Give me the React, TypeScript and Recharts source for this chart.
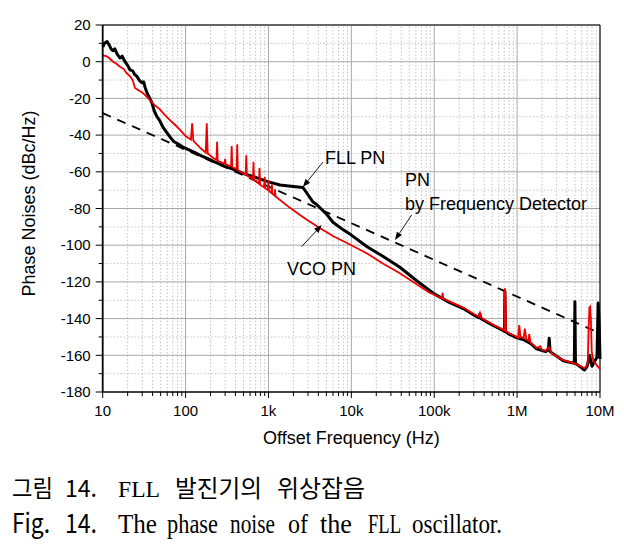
import React from 'react';
import { LineChart, Line, XAxis, YAxis, ReferenceLine, ReferenceDot, Label } from 'recharts';

// x ticks (log axis)
const xMajorTicks = [10, 100, 1e3, 1e4, 1e5, 1e6, 1e7];
const xTickLabels = ['10', '100', '1k', '10k', '100k', '1M', '10M'];
const xMinorSteps = [2, 3, 4, 5, 6, 7, 8, 9];
const xMinorTicks = xMajorTicks.slice(0, -1).flatMap((d) => xMinorSteps.map((m) => d * m));

// y ticks
const yMajorTicks = [20, 0, -20, -40, -60, -80, -100, -120, -140, -160, -180];
const yMinorTicks = [10, -10, -30, -50, -70, -90, -110, -130, -150, -170];

// FLL PN (black), [frequency Hz, dBc/Hz]
const fllPoints: [number, number][] = [
  [10, 8], [10.5, 10], [11.3, 11], [12, 9], [12.6, 7], [13.3, 6], [14, 7], [15, 4], [16.2, 2],
  [17.2, 3], [18.6, 0], [20, -2], [21.4, -4.5], [23, -5], [24.3, -7], [25.9, -8], [27.5, -10],
  [29.8, -11.5], [31.2, -11], [32.5, -14], [34.3, -17], [37, -20], [39.3, -22.5], [42, -27],
  [45.2, -30], [48.5, -32], [53.3, -35.6], [58, -38], [64.8, -41], [72, -43.5], [78.9, -44.5],
  [93, -46.5], [110, -48], [130, -49.5], [150, -51], [180, -52.5], [220, -54.5], [300, -57],
  [400, -59], [500, -61], [700, -63], [1000, -65.5], [1380, -67.2], [2000, -68], [2600, -68.5],
  [3000, -72.5], [3450, -76.5], [3850, -78], [5000, -83], [6000, -87.5], [7900, -91.5],
  [10000, -94.5], [15500, -100.8], [24000, -106], [38500, -112], [62000, -119.5],
  [100000, -126.5], [150000, -131], [224000, -134.5], [300000, -138], [345000, -139.5],
  [356000, -137.5], [367000, -140], [500000, -143.5], [676000, -146.5], [705000, -147],
  [712000, -125], [725000, -147], [800000, -148.5], [1000000, -150.5], [1200000, -151.5],
  [1500000, -154], [1720000, -156.5], [2200000, -158], [2380000, -157], [2440000, -150.7],
  [2500000, -158], [3600000, -163], [4900000, -164.4], [4980000, -130.8], [5060000, -164.5],
  [5900000, -166.5], [6500000, -168], [7000000, -166], [7500000, -160], [8000000, -166],
  [9200000, -161], [9500000, -131.5], [9750000, -142], [10000000, -162],
];

// VCO PN (red)
const vcoPoints: [number, number][] = [
  [10, 3.5], [11, 3], [12, 2], [13.3, 0], [14.5, -1], [16.2, -2.7], [18, -4], [19.2, -6],
  [21.4, -8], [23, -10], [24.5, -14.3], [27, -15.5], [30.6, -17], [37.2, -21], [42, -23.5],
  [49, -26], [56, -29], [64.8, -31.8], [75, -34.5], [85.3, -37], [100, -40.5], [116, -42.5],
  [120, -33.6], [124, -43], [150, -47], [175, -49.5], [180, -33.6], [185, -50], [215, -52.5],
  [236, -53.5], [240, -43.6], [244, -54], [295, -55.5], [300, -53], [305, -56], [354, -57],
  [360, -46], [366, -57.5], [413, -58.5], [420, -45], [427, -59], [480, -60.5], [531, -61.5],
  [540, -51], [549, -62], [650, -64], [660, -54.5], [670, -64.5], [768, -66.5], [780, -58],
  [792, -67], [887, -68.5], [900, -62.7], [913, -69], [985, -70], [1000, -64.5], [1015, -70.5],
  [1085, -71.5], [1100, -67], [1115, -72], [1185, -73], [1200, -69.5], [1215, -73.5],
  [1380, -75.4], [1800, -79.5], [2400, -83.5], [3000, -86.5], [4200, -90.7], [6000, -95],
  [10000, -100], [15500, -104.5], [24000, -110], [38500, -115.3], [60000, -121], [88700, -126],
  [100000, -127], [124000, -129], [126000, -125.9], [129000, -129.3], [150000, -130.5],
  [224000, -134], [300000, -137.5], [345000, -139], [356000, -137], [367000, -139.5],
  [500000, -143], [676000, -146], [705000, -146.5], [712000, -123.5], [725000, -128],
  [735000, -147], [800000, -148], [950000, -149.5], [1030000, -150.5], [1060000, -143.5],
  [1100000, -150], [1200000, -150.5], [1240000, -145.5], [1290000, -151.5], [1370000, -152],
  [1400000, -148.5], [1450000, -153], [1720000, -156], [1900000, -155], [2000000, -157],
  [2200000, -157.5], [2440000, -155.5], [2600000, -159], [3600000, -162.6], [5000000, -164.5],
  [5900000, -166], [6500000, -167], [7100000, -165], [7300000, -145], [7450000, -134],
  [7600000, -133.5], [7750000, -140], [7950000, -158], [8300000, -163], [9000000, -165],
  [10000000, -167.5],
];

// PN by frequency detector (dashed)
const fdPoints: [number, number][] = [[10, -28], [10000000, -148]];

const toData = (pts: [number, number][]) => pts.map(([f, v]) => ({ f, v }));

const FONT = '"Liberation Sans", Arial, sans-serif';

const XTick = (props: any) => {
  const { x, y, payload } = props;
  const i = xMajorTicks.indexOf(payload.value);
  const major = i >= 0;
  return (
    <g>
      <line x1={x} x2={x} y1={y} y2={y + (major ? 6 : 4)} stroke="#000" strokeWidth={1} />
      {major && (
        <text x={x} y={y + 24} textAnchor="middle" fontSize={15} fontFamily={FONT} fill="#000">
          {xTickLabels[i]}
        </text>
      )}
    </g>
  );
};

const YTick = (props: any) => {
  const { x, y, payload } = props;
  const major = yMajorTicks.indexOf(payload.value) >= 0;
  return (
    <g>
      <line x1={x} x2={x - (major ? 7 : 4)} y1={y} y2={y} stroke="#000" strokeWidth={1} />
      {major && (
        <text x={x - 12} y={y} dy="0.35em" textAnchor="end" fontSize={15} fontFamily={FONT} fill="#000">
          {payload.value}
        </text>
      )}
    </g>
  );
};

const arrowShape = (p: any) => {
  const { x1, y1, x2, y2 } = p;
  const a = Math.atan2(y2 - y1, x2 - x1);
  const len = 8;
  const w = 3;
  const bx = x2 - len * Math.cos(a);
  const by = y2 - len * Math.sin(a);
  const pts = `${x2},${y2} ${bx + w * Math.sin(a)},${by - w * Math.cos(a)} ${bx - w * Math.sin(a)},${by + w * Math.cos(a)}`;
  return (
    <g>
      <line x1={x1} y1={y1} x2={bx} y2={by} stroke="#000" strokeWidth={0.9} />
      <polygon points={pts} fill="#000" />
    </g>
  );
};

const textShape = (label: string) => (p: any) => (
  <text x={p.cx} y={p.cy} dy="0.35em" fontSize={18} fontFamily={FONT} fill="#000">
    {label}
  </text>
);

// annotation anchors in data coordinates
const annoLabels: { f: number; v: number; text: string }[] = [
  { f: 4800, v: -52.5, text: 'FLL PN' },
  { f: 44400, v: -64.5, text: 'PN' },
  { f: 44400, v: -77.3, text: 'by Frequency Detector' },
  { f: 1670, v: -112.7, text: 'VCO PN' },
];
const annoArrows: [number, number, number, number][] = [
  [4540, -54.7, 2600, -68.3],
  [53400, -83.5, 33600, -97.2],
  [2510, -100.8, 4390, -89],
];

const captionKo: [string, number, number, string][] = [
  ['그림', 12, 41, '"Noto Sans CJK KR"'],
  ['14.', 65, 32, '"Noto Sans CJK KR"'],
  ['FLL', 118, 42, '"Liberation Serif"'],
  ['발진기의', 175, 87, '"Noto Sans CJK KR"'],
  ['위상잡음', 277, 88, '"Noto Sans CJK KR"'],
];
const captionEn: [string, number, number, string][] = [
  ['Fig.', 12, 38, '"Noto Sans CJK KR"'],
  ['14.', 65, 32, '"Noto Sans CJK KR"'],
  ['The', 118, 39, '"Liberation Serif"'],
  ['phase', 167, 51, '"Liberation Serif"'],
  ['noise', 230, 45, '"Liberation Serif"'],
  ['of', 288, 20, '"Liberation Serif"'],
  ['the', 320, 32, '"Liberation Serif"'],
  ['FLL', 368, 33, '"Liberation Serif"'],
  ['oscillator.', 412, 90, '"Liberation Serif"'],
];

export default function App() {
  return (
    <div style={{ position: 'absolute', left: 0, top: 0, width: 624, height: 551, background: '#fff' }}>
      <LineChart width={624} height={460} margin={{ top: 25, right: 24, left: 0, bottom: 0 }}>
        <XAxis
          dataKey="f"
          type="number"
          scale="log"
          domain={[10, 1e7]}
          ticks={[...xMajorTicks, ...xMinorTicks]}
          interval={0}
          tick={<XTick />}
          tickLine={false}
          tickSize={0}
          tickMargin={0}
          height={68}
          axisLine={{ stroke: '#000', strokeWidth: 1.5 }}
        >
          <Label
            content={(p: any) => (
              <text
                x={p.viewBox.x + p.viewBox.width / 2}
                y={p.viewBox.y + 52}
                textAnchor="middle"
                fontSize={18}
                fontFamily={FONT}
                fill="#000"
              >
                Offset Frequency (Hz)
              </text>
            )}
          />
        </XAxis>
        <YAxis
          type="number"
          domain={[-180, 20]}
          ticks={[...yMajorTicks, ...yMinorTicks]}
          interval={0}
          tick={<YTick />}
          tickLine={false}
          tickSize={0}
          tickMargin={0}
          width={102.7}
          axisLine={{ stroke: '#000', strokeWidth: 1.8 }}
        >
          <Label
            content={(p: any) => {
              const cx = p.viewBox.x + 29;
              const cy = p.viewBox.y + p.viewBox.height / 2 - 5;
              return (
                <text
                  x={cx}
                  y={cy}
                  dy="0.35em"
                  textAnchor="middle"
                  transform={`rotate(-90, ${cx}, ${cy})`}
                  fontSize={18}
                  fontFamily={FONT}
                  fill="#000"
                >
                  Phase Noises (dBc/Hz)
                </text>
              );
            }}
          />
        </YAxis>

        {xMinorTicks.map((f) => (
          <ReferenceLine key={`xm${f}`} x={f} stroke="#c4c4c4" strokeDasharray="1.5 2" strokeWidth={1} />
        ))}
        {yMinorTicks.map((v) => (
          <ReferenceLine key={`ym${v}`} y={v} stroke="#c4c4c4" strokeDasharray="1.5 2" strokeWidth={1} />
        ))}
        {xMajorTicks.slice(1, -1).map((f) => (
          <ReferenceLine key={`xM${f}`} x={f} stroke="#a8a8a8" strokeWidth={1} />
        ))}
        {yMajorTicks.slice(1, -1).map((v) => (
          <ReferenceLine key={`yM${v}`} y={v} stroke="#a8a8a8" strokeWidth={1} />
        ))}
        <ReferenceLine y={20} stroke="#666" strokeWidth={1.8} />
        <ReferenceLine x={1e7} stroke="#000" strokeWidth={1.2} />

        <Line
          data={toData(fdPoints)}
          dataKey="v"
          stroke="#000"
          strokeWidth={1.8}
          strokeDasharray="9 7"
          dot={false}
          isAnimationActive={false}
        />
        <Line
          data={toData(fllPoints)}
          dataKey="v"
          stroke="#000"
          strokeWidth={3}
          strokeLinejoin="round"
          dot={false}
          isAnimationActive={false}
        />
        <Line
          data={toData(vcoPoints)}
          dataKey="v"
          stroke="#ee0000"
          strokeWidth={1.8}
          dot={false}
          isAnimationActive={false}
        />

        {annoArrows.map(([f1, v1, f2, v2], i) => (
          <ReferenceLine
            key={`ar${i}`}
            segment={[
              { x: f1, y: v1 },
              { x: f2, y: v2 },
            ]}
            shape={arrowShape}
          />
        ))}
        {annoLabels.map((a, i) => (
          <ReferenceDot key={`lb${i}`} x={a.f} y={a.v} r={1} shape={textShape(a.text)} />
        ))}
      </LineChart>

      <svg
        width={624}
        height={551}
        style={{ position: 'absolute', left: 0, top: 0, pointerEvents: 'none' }}
      >
        {captionKo.map(([t, x, w, ff], i) => (
          <text key={`ko${i}`} x={x} y={497} fontSize={24} fontFamily={ff} textLength={w} lengthAdjust="spacingAndGlyphs" fill="#000">
            {t}
          </text>
        ))}
        {captionEn.map(([t, x, w, ff], i) => (
          <text key={`en${i}`} x={x} y={533} fontSize={27} fontFamily={ff} textLength={w} lengthAdjust="spacingAndGlyphs" fill="#000">
            {t}
          </text>
        ))}
      </svg>
    </div>
  );
}
